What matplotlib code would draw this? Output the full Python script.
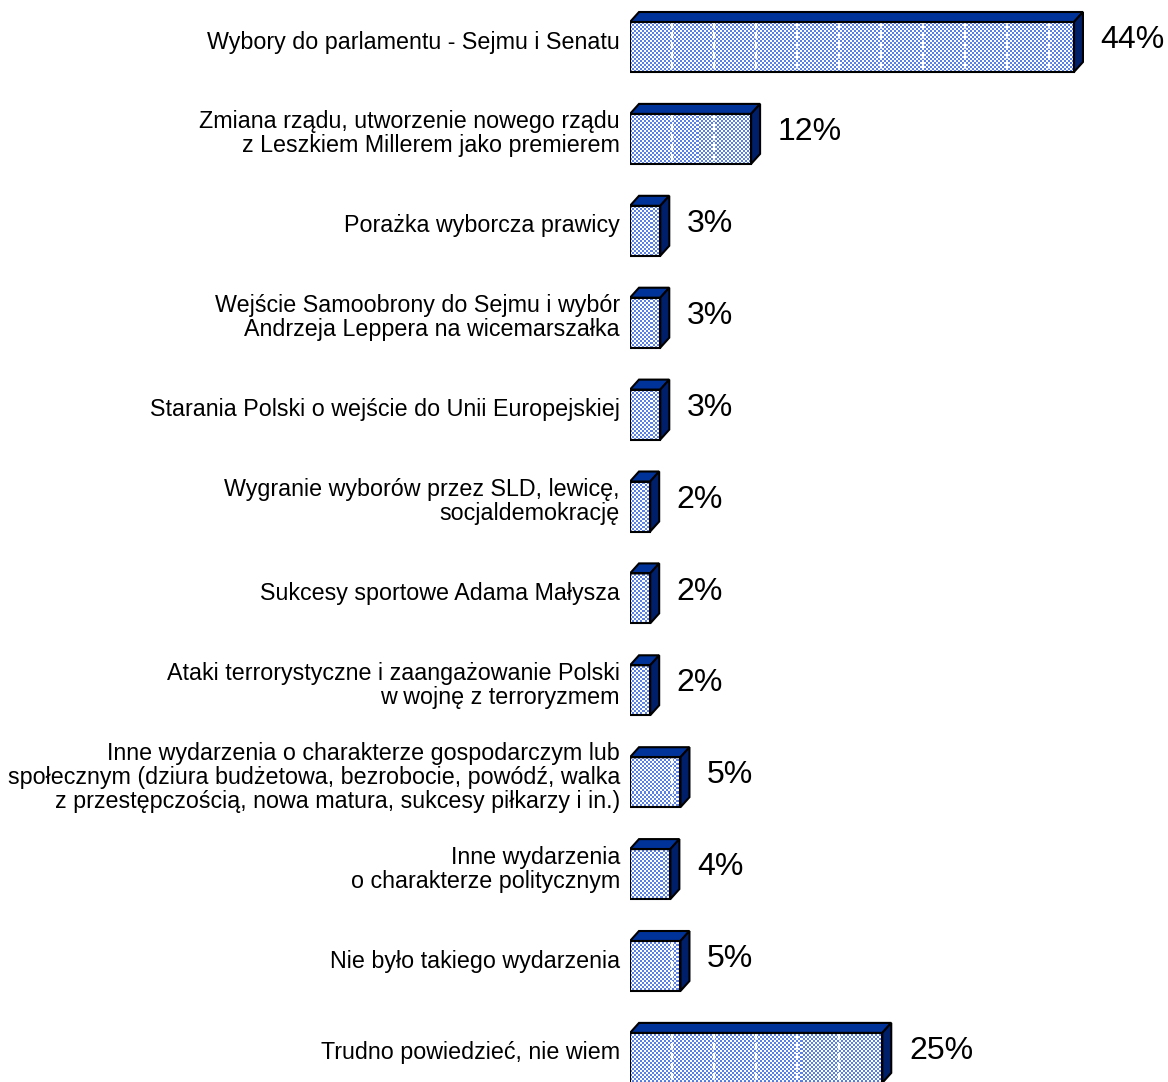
import numpy as np
import matplotlib
matplotlib.use("Agg")
import matplotlib.pyplot as plt
from matplotlib.patches import Rectangle, Polygon
from matplotlib.colors import ListedColormap

categories = [
    "Wybory do parlamentu - Sejmu i Senatu",
    "Zmiana rządu, utworzenie nowego rządu\nz Leszkiem Millerem jako premierem",
    "Porażka wyborcza prawicy",
    "Wejście Samoobrony do Sejmu i wybór\nAndrzeja Leppera na wicemarszałka",
    "Starania Polski o wejście do Unii Europejskiej",
    "Wygranie wyborów przez SLD, lewicę,\nsocjaldemokrację",
    "Sukcesy sportowe Adama Małysza",
    "Ataki terrorystyczne i zaangażowanie Polski\nw wojnę z terroryzmem",
    "Inne wydarzenia o charakterze gospodarczym lub\nspołecznym (dziura budżetowa, bezrobocie, powódź, walka\nz przestępczością, nowa matura, sukcesy piłkarzy i in.)",
    "Inne wydarzenia\no charakterze politycznym",
    "Nie było takiego wydarzenia",
    "Trudno powiedzieć, nie wiem",
]
values = [44, 12, 3, 3, 3, 2, 2, 2, 5, 4, 5, 25]
value_labels = ["44%", "12%", "3%", "3%", "3%", "2%", "2%", "2%", "5%", "4%", "5%", "25%"]

W, H = 1168, 1082
DPI = 100
fig = plt.figure(figsize=(W / DPI, H / DPI), dpi=DPI)

# geometry (pixels)
ax_left_px = 630
px_per_pct = 10.09
first_center_px = 47
pitch_px = 91.9
front_h_px = 50
dx_px, dy_px = 9, 10

ax = fig.add_axes([ax_left_px / W, 0, (W - ax_left_px) / W, 1])
xmax = (W - ax_left_px) / px_per_pct
ytop = -first_center_px / pitch_px
ybot = (H - first_center_px) / pitch_px
ax.set_xlim(0, xmax)
ax.set_ylim(ybot, ytop)
ax.axis("off")

h = front_h_px / pitch_px
dx = dx_px / px_per_pct
dy = dy_px / pitch_px

top_color = "#003399"
side_color = "#001f6b"
check_blue = "#5a80e4"
edge = "black"
lw = 1.5
grid_step = 4.15

# checkerboard image covering the axes
nx = (W - ax_left_px) // 2 + 1
ny = H // 2 + 1
ii, jj = np.indices((ny, nx))
checker = ((ii + jj) % 2).astype(float)
cmap = ListedColormap(["white", check_blue])
ext = (0, nx * 2 / px_per_pct, ytop + ny * 2 / pitch_px, ytop)

for i, (cat, v, lab) in enumerate(zip(categories, values, value_labels)):
    yc = i
    top = yc - h / 2
    bot = yc + h / 2
    # front face
    front = Rectangle((0, top), v, h, facecolor="white", edgecolor="none", zorder=2)
    ax.add_patch(front)
    im = ax.imshow(checker, cmap=cmap, extent=ext, interpolation="nearest",
                   aspect="auto", zorder=3, vmin=0, vmax=1)
    im.set_clip_path(front)
    # gridlines visible through the front face
    k = 1
    while k * grid_step < v - 0.3:
        ax.plot([k * grid_step] * 2, [top, bot], color="white", lw=1.6,
                ls=(0, (3, 1.5)), zorder=4, solid_capstyle="butt")
        k += 1
    ax.add_patch(Rectangle((0, top), v, h, facecolor="none", edgecolor=edge,
                           lw=lw, zorder=6))
    # top face
    ax.add_patch(Polygon([(0, top), (v, top), (v + dx, top - dy), (dx, top - dy)],
                         closed=True, facecolor=top_color, edgecolor=edge, lw=lw,
                         joinstyle="miter", zorder=5))
    # side face
    ax.add_patch(Polygon([(v, top), (v + dx, top - dy), (v + dx, bot - dy), (v, bot)],
                         closed=True, facecolor=side_color, edgecolor=edge, lw=lw,
                         joinstyle="miter", zorder=5))
    # category label
    ax.text(-1.0, yc - dy / 2, cat, ha="right", va="center", multialignment="right",
            fontsize=16.75, family="Liberation Sans", linespacing=1.06, clip_on=False)
    # value label
    ax.text(v + dx + 1.75, yc - dy / 2 - 0.02, lab, ha="left", va="center",
            fontsize=23, family="Liberation Sans", clip_on=False)

fig.savefig("out.png", dpi=DPI)
